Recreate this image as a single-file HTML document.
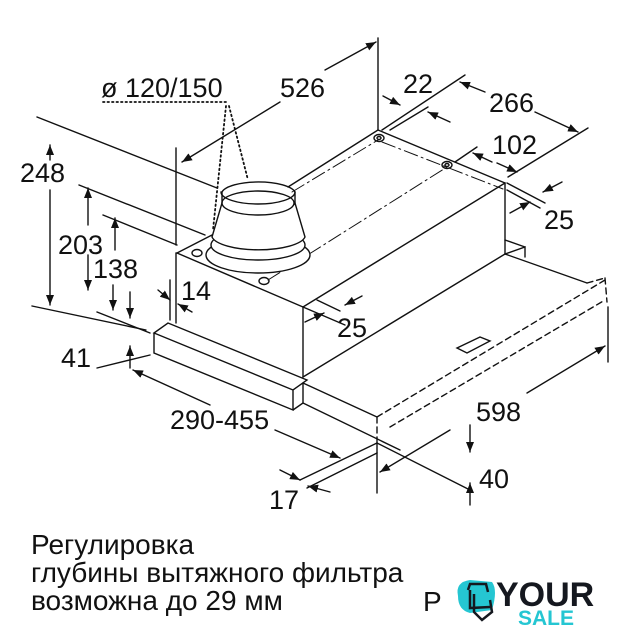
<!DOCTYPE html>
<html><head><meta charset="utf-8"><style>
html,body{margin:0;padding:0;background:#fff;}
svg{display:block}
text{font-family:"Liberation Sans",sans-serif;fill:#111}
</style></head><body>
<svg width="640" height="640" viewBox="0 0 640 640" xmlns="http://www.w3.org/2000/svg">
<defs>
<marker id="a" markerWidth="10" markerHeight="8" refX="10" refY="4" orient="auto" markerUnits="userSpaceOnUse">
<path d="M0,0 L10,4 L0,8 Z" fill="#111"/></marker>
</defs>
<g stroke="#111" stroke-width="1.4" fill="none" stroke-linecap="round">
<line x1="177" y1="253" x2="212" y2="235"/>
<line x1="288" y1="187" x2="378" y2="130"/>
<line x1="378" y1="130" x2="505" y2="183"/>
<line x1="177" y1="253" x2="303" y2="307"/>
<line x1="303" y1="307" x2="505" y2="183"/>
<line x1="505" y1="183" x2="505" y2="254"/>
<line x1="303" y1="307" x2="303" y2="377"/>
<line x1="303" y1="377" x2="505" y2="254"/>
<line x1="176" y1="253" x2="176" y2="323"/>
<line x1="292" y1="192" x2="378" y2="140" stroke-dasharray="14,4,2,4" stroke-width="1"/>
<line x1="382" y1="142" x2="503" y2="189" stroke-dasharray="14,4,2,4" stroke-width="1"/>
<line x1="268" y1="280" x2="447" y2="167" stroke-dasharray="14,4,2,4" stroke-width="1"/>
<ellipse cx="379" cy="138" rx="5" ry="3.5"/><ellipse cx="379" cy="138" rx="2" ry="1.5"/>
<ellipse cx="447" cy="165" rx="5" ry="3.5"/><ellipse cx="447" cy="165" rx="2" ry="1.5"/>
<ellipse cx="197" cy="253" rx="5" ry="3.5"/>
<ellipse cx="264" cy="281" rx="5" ry="3.5"/>
<ellipse cx="258" cy="255" rx="52" ry="18" fill="#fff"/>
<ellipse cx="258" cy="245" rx="47" ry="15" fill="#fff"/>
<path d="M212,237 L222,203 A37,12 0 0 0 295,203 L305,237 A47,15 0 0 1 212,237 Z" fill="#fff"/>
<ellipse cx="258" cy="203" rx="36" ry="12" fill="#fff"/>
<path d="M222,203 L222,192 A37,12 0 0 1 295,192 L295,203"/>
<path d="M221,192 A37,12 0 0 0 295,192"/>
<path d="M154,333 L168,323 L307,380 L293,390 Z M154,333 L154,353 L293,410 L293,390 M293,410 L303,403 L303,383"/>
<line x1="303" y1="383" x2="377" y2="417"/>
<line x1="303" y1="403" x2="400" y2="450"/>
<line x1="377" y1="443" x2="470" y2="490"/>
<path d="M505,254 L525,247 L525,257 M505,240 L525,247"/>
<line x1="505" y1="254" x2="587" y2="283"/>
<path d="M377,417 L605,280 M390,427 L605,300 M605,278 L607,302 M377,417 L377,443 M587,283 L605,278" stroke-dasharray="6,4"/>
<line x1="608" y1="307" x2="608" y2="362"/>
<path d="M457,348 L480,337 L490,341 L467,353 Z"/>
<line x1="377" y1="443" x2="377" y2="493"/>
<line x1="378" y1="38" x2="378" y2="130"/>
<line x1="176" y1="148" x2="176" y2="245"/>
<line x1="37" y1="117" x2="217" y2="188"/>
<line x1="79" y1="185" x2="205" y2="235"/>
<line x1="103" y1="215" x2="177" y2="245"/>
<line x1="32" y1="306" x2="146" y2="330"/>
<line x1="97" y1="312" x2="150" y2="333"/>
<line x1="97" y1="368" x2="150" y2="355"/>
<line x1="382" y1="130" x2="465" y2="75"/>
<line x1="390" y1="130" x2="428" y2="107"/>
<line x1="508" y1="177" x2="588" y2="128"/>
<line x1="455" y1="162" x2="477" y2="147"/>
<line x1="507" y1="183" x2="545" y2="203"/>
<line x1="507" y1="190" x2="540" y2="208"/>
<line x1="303" y1="307" x2="345" y2="325"/>
<line x1="317" y1="300" x2="340" y2="311"/>
<line x1="170" y1="280" x2="170" y2="320"/>
<line x1="300" y1="480" x2="377" y2="443"/>
<line x1="307" y1="488" x2="377" y2="453"/>
<line x1="280" y1="102" x2="182" y2="162" marker-end="url(#a)"/>
<line x1="325" y1="70" x2="376" y2="42" marker-end="url(#a)"/>
<line x1="50" y1="160" x2="50" y2="145" marker-end="url(#a)"/>
<line x1="50" y1="190" x2="50" y2="305" marker-end="url(#a)"/>
<line x1="88" y1="225" x2="88" y2="188" marker-end="url(#a)"/>
<line x1="88" y1="255" x2="88" y2="290" marker-end="url(#a)"/>
<line x1="115" y1="250" x2="115" y2="218" marker-end="url(#a)"/>
<line x1="113" y1="285" x2="113" y2="310" marker-end="url(#a)"/>
<line x1="130" y1="292" x2="130" y2="318" marker-end="url(#a)"/>
<line x1="130" y1="368" x2="130" y2="346" marker-end="url(#a)"/>
<line x1="158" y1="290" x2="170" y2="300" marker-end="url(#a)"/>
<line x1="192" y1="312" x2="178" y2="304" marker-end="url(#a)"/>
<line x1="210" y1="405" x2="133" y2="370" marker-end="url(#a)"/>
<line x1="275" y1="430" x2="340" y2="458" marker-end="url(#a)"/>
<line x1="280" y1="470" x2="300" y2="480" marker-end="url(#a)"/>
<line x1="330" y1="492" x2="308" y2="486" marker-end="url(#a)"/>
<line x1="362" y1="296" x2="345" y2="305" marker-end="url(#a)"/>
<line x1="305" y1="322" x2="324" y2="313" marker-end="url(#a)"/>
<line x1="383" y1="96" x2="400" y2="105" marker-end="url(#a)"/>
<line x1="450" y1="122" x2="428" y2="112" marker-end="url(#a)"/>
<line x1="485" y1="92" x2="460" y2="82" marker-end="url(#a)"/>
<line x1="535" y1="112" x2="578" y2="132" marker-end="url(#a)"/>
<line x1="492" y1="162" x2="473" y2="153" marker-end="url(#a)"/>
<line x1="497" y1="163" x2="517" y2="172" marker-end="url(#a)"/>
<line x1="562" y1="182" x2="543" y2="192" marker-end="url(#a)"/>
<line x1="510" y1="213" x2="530" y2="202" marker-end="url(#a)"/>
<line x1="527" y1="393" x2="605" y2="346" marker-end="url(#a)"/>
<line x1="450" y1="430" x2="380" y2="472" marker-end="url(#a)"/>
<line x1="470" y1="425" x2="470" y2="452" marker-end="url(#a)"/>
<line x1="470" y1="505" x2="470" y2="483" marker-end="url(#a)"/>
<path d="M103,102 L228,102 M226,106 L213,230 M229,106 L248,180" stroke-dasharray="1.5,3" stroke-width="1.8"/>
</g>
<g font-size="27">
<text x="101" y="97">ø 120/150</text>
<text x="280" y="97">526</text>
<text x="403" y="93">22</text>
<text x="489" y="112">266</text>
<text x="492" y="154">102</text>
<text x="544" y="229">25</text>
<text x="20" y="182">248</text>
<text x="58" y="254">203</text>
<text x="93" y="278">138</text>
<text x="181" y="300">14</text>
<text x="337" y="337">25</text>
<text x="61" y="367">41</text>
<text x="170" y="429">290-455</text>
<text x="476" y="421">598</text>
<text x="479" y="488">40</text>
<text x="269" y="509">17</text>
</g>
<g font-size="28" font-family="'Liberation Sans',sans-serif">
<text x="31" y="554">Регулировка</text>
<text x="31" y="582">глубины вытяжного фильтра</text>
<text x="31" y="610">возможна до 29 мм</text>
<text x="423" y="611">P</text>
</g>
<path d="M458,596 Q455,582 470,580 L492,582 Q498,590 492,610 L470,613 Q458,610 458,596 Z" fill="#25c6d2"/>
<path d="M468,590 L470,584 L486,584 L488,592 M470,590 L470,608 L490,607" stroke="#15181f" stroke-width="2.5" fill="none"/>
<path d="M474,594 L474,612 L482,620 L492,612 L490,600" stroke="#15181f" stroke-width="2.5" fill="none"/>
<text x="496" y="606" font-size="34" font-weight="bold" style="fill:#15181f">YOUR</text>
<text x="518" y="625" font-size="21" font-weight="bold" style="fill:#25c6d2">SALE</text>
</svg>
</body></html>
